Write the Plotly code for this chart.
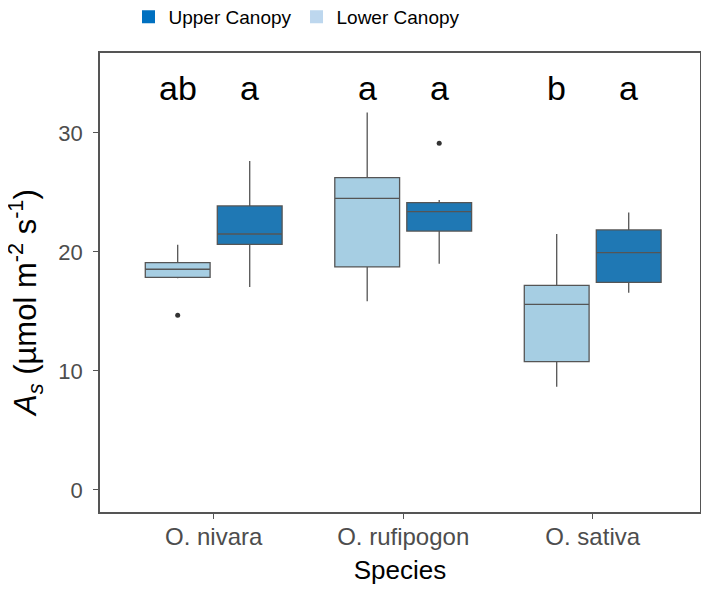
import plotly.graph_objects as go

species = ["O. nivara", "O. rufipogon", "O. sativa"]

# Lower canopy box statistics
lower_lf = [17.8, 15.85, 8.68]
lower_q1 = [17.87, 18.74, 10.78]
lower_med = [18.55, 24.51, 15.6]
lower_q3 = [19.1, 26.25, 17.2]
lower_uf = [20.6, 31.71, 21.51]
lower_out_species = ["O. nivara"]
lower_out = [14.68]

# Upper canopy box statistics
upper_lf = [17.06, 19.02, 16.58]
upper_q1 = [20.64, 21.76, 17.45]
upper_med = [21.51, 23.39, 19.94]
upper_q3 = [23.87, 24.15, 21.85]
upper_uf = [27.65, 24.37, 23.31]
upper_out_species = ["O. rufipogon"]
upper_out = [29.13]

letters_lower = ["ab", "a", "b"]
letters_upper = ["a", "a", "a"]
letter_y = 33.8

y_ticks = [0, 10, 20, 30]

FONT = "Liberation Sans, Arial, sans-serif"
LIGHT = "#A6CEE3"
DARK = "#1F78B4"
EDGE = "#555555"
BOXGAP = 0.24
BOXGROUPGAP = 0.1
DODGE = (1 - BOXGAP) / 4  # centre offset of each box within a group

W, H = 693, 578
ML, MR, MT, MB = 92, 1, 45, 74
plot_w = W - ML - MR
plot_h = H - MT - MB
X_LO = -0.6
X_HI = X_LO + plot_w / 189.5

fig = go.Figure()

fig.add_trace(go.Box(
    x=species,
    q1=lower_q1, median=lower_med, q3=lower_q3,
    lowerfence=lower_lf, upperfence=lower_uf,
    name="Lower Canopy", fillcolor=LIGHT,
    line=dict(color=EDGE, width=1.3),
    boxpoints=False, showlegend=False, whiskerwidth=0,
))
fig.add_trace(go.Box(
    x=species,
    q1=upper_q1, median=upper_med, q3=upper_q3,
    lowerfence=upper_lf, upperfence=upper_uf,
    name="Upper Canopy", fillcolor=DARK,
    line=dict(color=EDGE, width=1.3),
    boxpoints=False, showlegend=False, whiskerwidth=0,
))

# outliers on an overlaid numeric axis matching the category positions
idx = {s: i for i, s in enumerate(species)}
fig.add_trace(go.Scatter(
    x=[idx[s] - DODGE for s in lower_out_species], y=lower_out, xaxis="x2",
    mode="markers", marker=dict(color="#333333", size=5), showlegend=False,
    hoverinfo="y"))
fig.add_trace(go.Scatter(
    x=[idx[s] + DODGE for s in upper_out_species], y=upper_out, xaxis="x2",
    mode="markers", marker=dict(color="#333333", size=5), showlegend=False,
    hoverinfo="y"))

# legend entries (drawn as separate keys, as in the reference)
fig.add_trace(go.Scatter(x=[None], y=[None], mode="markers", name="Upper Canopy",
                         marker=dict(symbol="square", size=13, color="#0070C0")))
fig.add_trace(go.Scatter(x=[None], y=[None], mode="markers", name="Lower Canopy",
                         marker=dict(symbol="square", size=13, color="#BDD7EE")))

annotations = []
for i, sp in enumerate(species):
    annotations.append(dict(x=i - DODGE, y=letter_y, text=letters_lower[i], xref="x2", yref="y",
                            showarrow=False,
                            font=dict(family=FONT, size=34, color="black")))
    annotations.append(dict(x=i + DODGE, y=letter_y, text=letters_upper[i], xref="x2", yref="y",
                            showarrow=False,
                            font=dict(family=FONT, size=34, color="black")))

annotations.append(dict(
    x=(17 - ML) / plot_w, y=(H - MB - 295) / plot_h, xref="paper", yref="paper",
    xanchor="center", yanchor="middle",
    text="<i>A</i><sub><i>s</i></sub> (µmol m<sup>-2</sup> s<sup>-1</sup>)",
    showarrow=False, textangle=-90,
    font=dict(family=FONT, size=31, color="black")))

fig.update_layout(
    width=W, height=H,
    margin=dict(l=ML, r=MR, t=MT, b=MB, autoexpand=False),
    paper_bgcolor="white", plot_bgcolor="white",
    boxmode="group", boxgap=BOXGAP, boxgroupgap=BOXGROUPGAP,
    font=dict(family=FONT),
    legend=dict(orientation="h", x=289 / W, xanchor="center",
                y=1 + (MT + 10) / plot_h, yanchor="top",
                xref="container", yref="paper",
                font=dict(family=FONT, size=19, color="black"),
                itemwidth=30, bgcolor="rgba(0,0,0,0)"),
    annotations=annotations,
)

fig.update_xaxes(
    type="category", categoryorder="array", categoryarray=species,
    range=[X_LO, X_HI], automargin=False,
    showline=True, mirror=True, linecolor="#555555", linewidth=1.5,
    ticks="outside", ticklen=5, tickcolor="#555555", ticklabelstandoff=-3,
    tickfont=dict(family=FONT, size=24, color="#4D4D4D"),
    showgrid=False, zeroline=False,
    title=dict(text="Species", font=dict(family=FONT, size=26, color="black"), standoff=12),
)
fig.update_layout(xaxis2=dict(
    overlaying="x", range=[X_LO, X_HI], visible=False, showgrid=False, zeroline=False))
fig.update_yaxes(
    range=[-1.85, 36.72], tickvals=y_ticks, automargin=False, type="linear",
    showline=True, mirror=True, linecolor="#555555", linewidth=1.5,
    ticks="outside", ticklen=5, tickcolor="#555555", ticklabelstandoff=6,
    tickfont=dict(family=FONT, size=22, color="#4D4D4D"),
    showgrid=False, zeroline=False,
)

fig.write_html("out.html")
